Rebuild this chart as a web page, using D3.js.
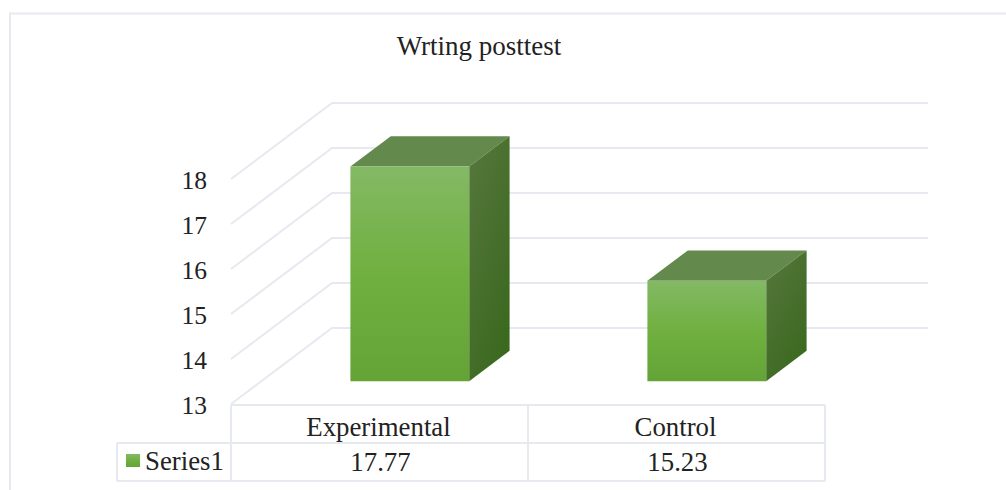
<!DOCTYPE html>
<html>
<head>
<meta charset="utf-8">
<script src="https://cdn.jsdelivr.net/npm/d3@7/dist/d3.min.js"></script>
<style>
  html, body { margin: 0; padding: 0; background: #fff; overflow: hidden; }
  text { font-family: "Liberation Serif", serif; fill: #222; }
</style>
</head>
<body>
<svg id="chart" width="1006" height="490"></svg>
<script>
const chartTitle = "Wrting posttest";
const categories = ["Experimental", "Control"];
const seriesName = "Series1";
const seriesValues = [17.77, 15.23];
const valueLabels = ["17.77", "15.23"];
const yTicks = [13, 14, 15, 16, 17, 18];

const lineColor = "#e6e9f0";
const svg = d3.select("#chart");

// Front-plane scales; the depth vector carries a point towards the back wall.
const x = d3.scaleBand().domain(categories).range([231, 825]).paddingInner(0).paddingOuter(0);
const y = d3.scaleLinear().domain([13, 18]).range([404, 179]);
const depth = { dx: 101, dy: -76 };
const barWidth = x.bandwidth() * 0.4;
const depthNear = 0.3, depthFar = 0.7;
const project = (px, value, d) => [px + depth.dx * d, y(value) + depth.dy * d];
const poly = pts => "M" + pts.map(p => p.join(",")).join("L") + "Z";

// Gradients for the lit front, shaded side and the legend key.
const defs = svg.append("defs");
const gradient = (id, x2, y2, stops) => {
  const g = defs.append("linearGradient").attr("id", id)
    .attr("x1", 0).attr("y1", 0).attr("x2", x2).attr("y2", y2);
  stops.forEach(([o, c]) => g.append("stop").attr("offset", o).attr("stop-color", c));
};
gradient("barFront", 0, 1, [[0, "#83b964"], [0.5, "#70b040"], [1, "#64a336"]]);
gradient("barSide", 0.6, 1, [[0, "#56773d"], [1, "#3c6920"]]);

// Page frame around the chart.
svg.append("path")
  .attr("d", "M10,490V13.5H1006")
  .attr("fill", "none").attr("stroke", lineColor).attr("stroke-width", 2);

// Side wall and back wall gridlines.
const wallRight = 928;
svg.append("g").selectAll("path").data(yTicks).join("path")
  .attr("fill", "none").attr("stroke", lineColor).attr("stroke-width", 2)
  .attr("d", t => {
    const a = project(231, t, 0), b = project(231, t, 1);
    return `M${a}L${b}H${wallRight}`;
  });

// Value axis, labels only.
const axis = svg.append("g").attr("transform", "translate(207,0)")
  .call(d3.axisLeft(y).tickValues(yTicks).tickSize(0).tickPadding(0).tickFormat(d3.format("d")));
axis.select(".domain").remove();
axis.selectAll("text")
  .attr("font-size", 25.5).attr("font-family", '"Liberation Serif", serif')
  .attr("fill", "#222").attr("dy", "0.38em");

// Three-dimensional columns.
const bars = svg.append("g").selectAll("g")
  .data(categories.map((c, i) => ({ c, v: seriesValues[i] })))
  .join("g");
const left = d => x(d.c) + (x.bandwidth() - barWidth) / 2;

bars.append("path").attr("fill", "#63894d").attr("d", d => {
  const l = left(d), r = l + barWidth;
  return poly([project(l, d.v, depthNear), project(r, d.v, depthNear),
               project(r, d.v, depthFar), project(l, d.v, depthFar)]);
});
bars.append("path").attr("fill", "url(#barSide)").attr("d", d => {
  const r = left(d) + barWidth;
  return poly([project(r, d.v, depthNear), project(r, d.v, depthFar),
               project(r, 13, depthFar), project(r, 13, depthNear)]);
});
bars.append("path").attr("fill", "url(#barFront)").attr("d", d => {
  const l = left(d), r = l + barWidth;
  return poly([project(l, d.v, depthNear), project(r, d.v, depthNear),
               project(r, 13, depthNear), project(l, 13, depthNear)]);
});

// Data table under the plot.
const rowTop = y(13) + 1, rowMid = 443, rowBottom = 481, legendLeft = 117;
const grid = svg.append("g").attr("fill", "none").attr("stroke", lineColor).attr("stroke-width", 2);
const columnEdges = [x.range()[0], ...categories.map(c => x(c) + x.bandwidth())];
grid.append("path").attr("d", `M${columnEdges[0]},${rowTop}H${columnEdges[2]}`);
grid.append("path").attr("d", `M${legendLeft},${rowMid}H${columnEdges[2]}`);
grid.append("path").attr("d", `M${legendLeft},${rowBottom}H${columnEdges[2]}`);
grid.append("path").attr("d", `M${legendLeft},${rowMid}V${rowBottom}`);
grid.selectAll("line").data(columnEdges).join("line")
  .attr("x1", d => d).attr("x2", d => d).attr("y1", rowTop).attr("y2", rowBottom);

svg.append("g").selectAll("text").data(categories).join("text")
  .attr("x", d => x(d) + x.bandwidth() / 2 - 1).attr("y", 436)
  .attr("text-anchor", "middle").attr("font-size", 26.8)
  .text(d => d);
svg.append("g").selectAll("text").data(valueLabels).join("text")
  .attr("x", (d, i) => x(categories[i]) + x.bandwidth() / 2 + 1).attr("y", 470.5)
  .attr("text-anchor", "middle").attr("font-size", 26.8)
  .text(d => d);

// Legend key inside the table.
svg.append("rect").attr("x", 126).attr("y", 454).attr("width", 14).attr("height", 13)
  .attr("fill", "url(#barFront)");
svg.append("text").attr("x", 145).attr("y", 470).attr("font-size", 26.8).text(seriesName);

svg.append("text").attr("x", 479).attr("y", 55)
  .attr("text-anchor", "middle").attr("font-size", 27).text(chartTitle);
</script>
</body>
</html>
